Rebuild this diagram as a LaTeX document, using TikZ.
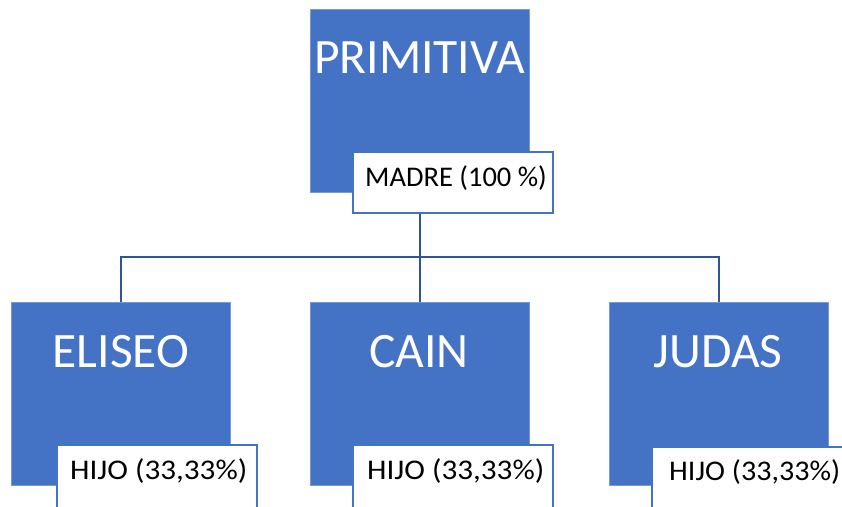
\documentclass[tikz,border=0pt]{standalone}
\usepackage{fontspec}
\usepackage{graphicx}
\setmainfont{Carlito}
\definecolor{boxblue}{HTML}{4472C4}
\definecolor{edgeblue}{HTML}{7A98D6}
\definecolor{linkblue}{HTML}{2F5597}
\newcommand{\hijotext}[1]{\resizebox{#1}{\height}{HIJO (33,33\%)}}
\begin{document}
\begin{tikzpicture}[x=1pt,y=-1pt,
  bigbox/.style={rectangle,fill=boxblue,draw=edgeblue,line width=0.8pt,inner sep=0pt,minimum width=219pt,minimum height=183pt},
  namebox/.style={text=white,font=\fontsize{49.5}{52}\selectfont,inner sep=0pt,anchor=base},
  tagbox/.style={rectangle,fill=white,draw=boxblue,line width=1.6pt,inner sep=0pt,minimum width=200pt,minimum height=61pt},
  lowtag/.style={tagbox,minimum height=75pt},
  tagtext/.style={text=black,font=\fontsize{28.5}{31}\selectfont,inner sep=0pt,anchor=base west},
  link/.style={draw=linkblue,line width=2pt}]
\useasboundingbox (0,0) rectangle (842,506);
% top
\node[bigbox] (p) at (419.5,100.5) {};
\node[namebox] (pt) at (419.5,73) {PRIMITIVA};
\node[tagbox] (pl) at (453,182.5) {};
\node[tagtext] (plt) at (365,186) {MADRE (100 \%)};
% children
\node[bigbox] (e) at (120.5,393.5) {};
\node[namebox] (et) at (121,367) {ELISEO};
\node[lowtag] (el) at (157,482.5) {};
\node[tagtext] (elt) at (70,479) {\hijotext{177pt}};
\node[bigbox] (c) at (419.5,393.5) {};
\node[namebox] (ct) at (419,367) {CAIN};
\node[lowtag] (cl) at (453,482.5) {};
\node[tagtext] (clt) at (367,479) {\hijotext{177pt}};
\node[bigbox] (j) at (718.5,393.5) {};
\node[namebox] (jt) at (718,367) {JUDAS};
\node[lowtag] (jl) at (752,484.5) {};
\node[tagtext] (jlt) at (669,480) {\hijotext{171pt}};
% connectors
\coordinate (bus) at (419.5,257);
\draw[link] (p.center |- pl.south) -- (bus);
\draw[link] (e.north) |- (bus) -| (j.north);
\draw[link] (bus) -- (c.north);
\end{tikzpicture}
\end{document}
